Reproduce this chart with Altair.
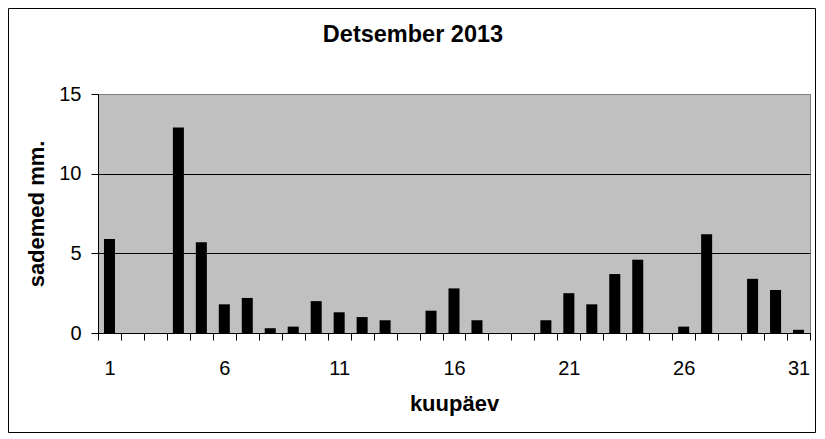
import altair as alt
import pandas as pd

days = list(range(1, 32))
rain = [5.9, 0, 0, 12.9, 5.7, 1.8, 2.2, 0.3, 0.4, 2.0, 1.3, 1.0, 0.8, 0, 1.4,
        2.8, 0.8, 0, 0, 0.8, 2.5, 1.8, 3.7, 4.6, 0, 0.4, 6.2, 0, 3.4, 2.7, 0.2]
y_ticks = [0, 5, 10, 15]
title_text = "Detsember 2013"
x_title = "kuupäev"
y_title = "sademed mm."

df = pd.DataFrame({"day": days, "rain": rain})

FONT = "Liberation Sans"

bars = alt.Chart(df).mark_bar(color="black", width={"band": 0.48}).encode(
    x=alt.X(
        "day:O",
        scale=alt.Scale(paddingInner=0, paddingOuter=0),
        axis=alt.Axis(
            title=x_title,
            labelAngle=0,
            tickBand="extent",
            labelExpr="datum.value % 5 == 1 ? datum.label : ''",
            labelOverlap=False,
            labelFont=FONT,
            labelFontSize=20,
            labelColor="black",
            labelPadding=18,
            tickSize=7,
            tickColor="black",
            domainColor="black",
            titleFont=FONT,
            titleFontSize=22,
            titleFontWeight="bold",
            titleColor="black",
            titlePadding=15,
            grid=False,
        ),
    ),
    y=alt.Y(
        "rain:Q",
        scale=alt.Scale(domain=[0, 15], nice=False),
        axis=alt.Axis(
            title=y_title,
            values=y_ticks,
            labelFont=FONT,
            labelFontSize=20,
            labelColor="black",
            labelPadding=10,
            tickSize=7,
            tickColor="black",
            domainColor="black",
            grid=True,
            gridColor=alt.condition("datum.value == 15", alt.value("#808080"), alt.value("black")),
            gridOpacity=1,
            titleFont=FONT,
            titleFontSize=22,
            titleFontWeight="bold",
            titleColor="black",
            titlePadding=10,
        ),
    ),
)

frame = alt.Chart(pd.DataFrame({"a": [0]})).mark_rect(
    filled=False, stroke="black", strokeWidth=1
).encode(
    x=alt.value(-89.5), x2=alt.value(717.5), y=alt.value(-85.5), y2=alt.value(338.5)
)

chart = alt.layer(bars, frame).properties(
    width=712,
    height=239,
    padding=0,
    background="white",
    title=alt.TitleParams(
        title_text,
        font=FONT,
        fontSize=23.5,
        fontWeight="bold",
        color="black",
        anchor="middle",
        baseline="alphabetic",
        offset=-57,
        dx=-41,
    ),
).configure_view(fill="#C0C0C0", stroke="#808080", strokeWidth=1)

chart.save("out.html", embed_options={"renderer": "svg", "actions": False})
